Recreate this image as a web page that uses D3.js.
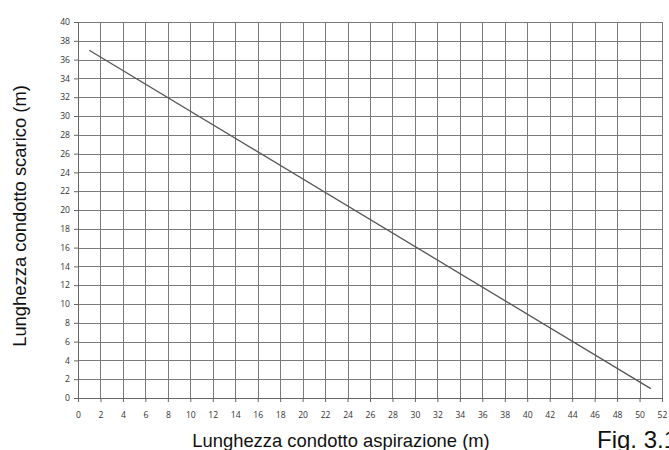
<!DOCTYPE html>
<html>
<head>
<meta charset="utf-8">
<script src="https://cdn.jsdelivr.net/npm/d3@7"></script>
<style>
  body { margin: 0; background: #fff; overflow: hidden; }
  .tick text { font-family: "Open Sans", sans-serif; font-size: 8.6px; fill: #333; }
  .title { font-family: "Liberation Sans", Arial, sans-serif; font-size: 18.4px; fill: #111; }
</style>
</head>
<body>
<div id="chart"></div>
<script>
// data
var xTicks = d3.range(0, 53, 2);
var yTicks = d3.range(0, 41, 2);
var lineX = [1, 51];
var lineY = [37, 1];

var margin = { top: 22, right: 7, bottom: 52, left: 78 };
var width = 669 - margin.left - margin.right,
    height = 450 - margin.top - margin.bottom;

var svg = d3.select("#chart").append("svg")
    .attr("width", 669)
    .attr("height", 450)
  .append("g")
    .attr("transform", "translate(" + margin.left + "," + margin.top + ")");

var x = d3.scaleLinear().domain([0, 52]).range([0, width]);
var y = d3.scaleLinear().domain([0, 40]).range([height, 0]);

// grid
svg.append("g").selectAll("line")
    .data(xTicks)
    .enter().append("line")
    .attr("x1", function(d) { return Math.round(x(d)) + 0.5; })
    .attr("x2", function(d) { return Math.round(x(d)) + 0.5; })
    .attr("y1", 0)
    .attr("y2", height)
    .attr("stroke", "#7a7a7a");

svg.append("g").selectAll("line")
    .data(yTicks)
    .enter().append("line")
    .attr("x1", 0)
    .attr("x2", width)
    .attr("y1", function(d) { return Math.round(y(d)) + 0.5; })
    .attr("y2", function(d) { return Math.round(y(d)) + 0.5; })
    .attr("stroke", "#7a7a7a");

// axes
var xAxis = svg.append("g")
    .attr("transform", "translate(0," + height + ")")
    .call(d3.axisBottom(x).tickValues(xTicks).tickSize(4).tickPadding(10));
var yAxis = svg.append("g")
    .call(d3.axisLeft(y).tickValues(yTicks).tickSize(4).tickPadding(4));
[xAxis, yAxis].forEach(function(a) {
  a.select(".domain").attr("stroke", "#666");
  a.selectAll(".tick line").attr("stroke", "#666");
});

// line
var pts = lineX.map(function(d, i) { return [d, lineY[i]]; });
svg.append("path")
    .datum(pts)
    .attr("fill", "none")
    .attr("stroke", "#555")
    .attr("stroke-width", 1.3)
    .attr("d", d3.line()
        .x(function(d) { return x(d[0]); })
        .y(function(d) { return y(d[1]); }));

// titles
svg.append("text")
    .attr("class", "title")
    .attr("text-anchor", "middle")
    .attr("x", 341 - margin.left)
    .attr("y", 447 - margin.top)
    .text("Lunghezza condotto aspirazione (m)");

svg.append("text")
    .attr("class", "title")
    .attr("text-anchor", "middle")
    .attr("transform", "translate(" + (26 - margin.left) + "," + (216 - margin.top) + ")rotate(-90)")
    .text("Lunghezza condotto scarico (m)");

// figure label, partly off the right edge as in the reference
svg.append("text")
    .attr("x", 597 - margin.left)
    .attr("y", 448 - margin.top)
    .style("font-family", "Liberation Sans, Arial, sans-serif")
    .style("font-size", "24px")
    .style("fill", "#111")
    .text("Fig. 3.1");
</script>
</body>
</html>
